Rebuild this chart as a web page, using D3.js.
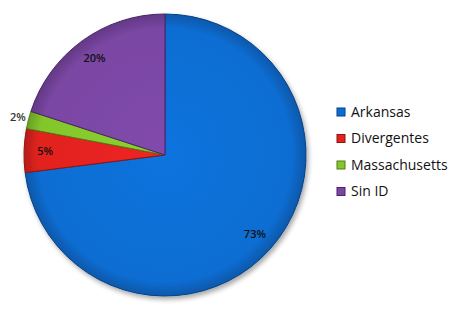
<!DOCTYPE html>
<html>
<head>
<meta charset="utf-8">
<script src="https://cdn.jsdelivr.net/npm/d3@7"></script>
<style>
  body { margin: 0; background: #fff; }
  text { font-family: "Open Sans", "Liberation Sans", sans-serif; }
</style>
</head>
<body>
<div id="chart"></div>
<script>
// data
var categories = ["Arkansas", "Divergentes", "Massachusetts", "Sin ID"];
var values = [73, 5, 2, 20];
var colors = ["#0b6dd2", "#e2231f", "#84c62c", "#7a46a3"];
var darkColors = ["#06428a", "#8c1410", "#4f7d15", "#4a2468"];

var width = 450, height = 309;
var cx = 165, cy = 155, radius = 141;

var svg = d3.select("#chart")
  .append("svg")
    .attr("width", width)
    .attr("height", height);

var defs = svg.append("defs");

// soft shadow
var shadow = defs.append("filter").attr("id", "shadow")
    .attr("x", "-10%").attr("y", "-10%").attr("width", "120%").attr("height", "120%");
shadow.append("feGaussianBlur").attr("in", "SourceAlpha").attr("stdDeviation", 2.5);
shadow.append("feOffset").attr("dx", 2).attr("dy", 3).attr("result", "off");
shadow.append("feComponentTransfer").append("feFuncA").attr("type", "linear").attr("slope", 0.35);
var merge = shadow.append("feMerge");
merge.append("feMergeNode");
merge.append("feMergeNode").attr("in", "SourceGraphic");

// one radial gradient per slice, a bit darker at the rim
categories.forEach(function(c, i) {
  var g = defs.append("radialGradient")
      .attr("id", "grad" + i)
      .attr("gradientUnits", "userSpaceOnUse")
      .attr("cx", 0).attr("cy", 0).attr("r", radius);
  g.append("stop").attr("offset", "0%").attr("stop-color", d3.color(colors[i]).brighter(0.15));
  g.append("stop").attr("offset", "90%").attr("stop-color", colors[i]);
  g.append("stop").attr("offset", "100%").attr("stop-color", d3.color(colors[i]).darker(0.6));
});

var pie = d3.pie().sort(null).value(function(d) { return d; });
var arcs = pie(values);

var arc = d3.arc().innerRadius(0).outerRadius(radius);
var labelArc = d3.arc().innerRadius(radius * 0.85).outerRadius(radius * 0.85);
var outerLabelArc = d3.arc().innerRadius(radius + 11).outerRadius(radius + 11);

var g = svg.append("g").attr("transform", "translate(" + cx + "," + cy + ")");

g.append("g").attr("filter", "url(#shadow)")
  .selectAll("path")
  .data(arcs)
  .join("path")
    .attr("d", arc)
    .attr("fill", function(d, i) { return "url(#grad" + i + ")"; })
    .attr("stroke", function(d, i) { return darkColors[i]; })
    .attr("stroke-width", 1);

g.selectAll("text.pct")
  .data(arcs)
  .join("text")
    .attr("class", "pct")
    .attr("transform", function(d) {
      var p = (d.value < 3 ? outerLabelArc : labelArc).centroid(d);
      return "translate(" + p + ")";
    })
    .attr("text-anchor", "middle")
    .attr("dy", "0.35em")
    .style("font-size", "11px")
    .style("font-weight", "600")
    .style("fill", function(d) { return d.value < 3 ? "#333" : "#111"; })
    .text(function(d) { return d.value + "%"; });

// legend
var legend = svg.append("g").attr("transform", "translate(337,112)");
var item = legend.selectAll("g")
  .data(categories)
  .join("g")
    .attr("transform", function(d, i) { return "translate(0," + (i * 26.5) + ")"; });

item.append("rect")
    .attr("x", 0).attr("y", -4)
    .attr("width", 8).attr("height", 8)
    .attr("fill", function(d, i) { return colors[i]; })
    .attr("stroke", function(d, i) { return darkColors[i]; })
    .attr("stroke-width", 1);

item.append("text")
    .attr("x", 14)
    .attr("dy", "0.35em")
    .style("font-size", "14px")
    .style("fill", "#111")
    .text(function(d) { return d; });
</script>
</body>
</html>
